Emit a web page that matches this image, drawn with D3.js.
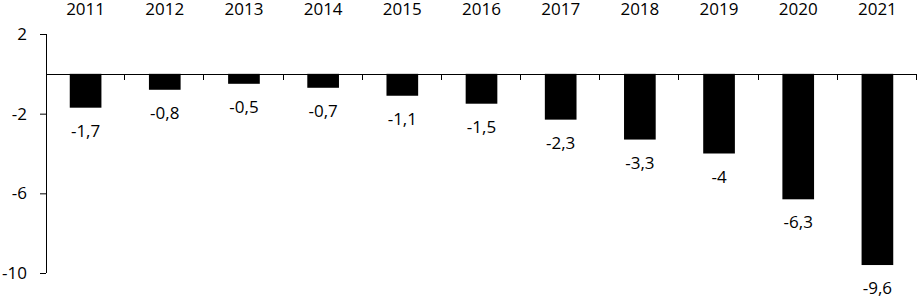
<!DOCTYPE html>
<html>
<head>
<meta charset="utf-8">
<script src="https://cdn.jsdelivr.net/npm/d3@7"></script>
<style>
  body { margin: 0; background: #fff; }
  text { font-family: "Open Sans", sans-serif; font-size: 17px; fill: #000; }
</style>
</head>
<body>
<div id="chart"></div>
<script>
// data
var years = ["2011", "2012", "2013", "2014", "2015", "2016", "2017", "2018", "2019", "2020", "2021"];
var values = [-1.7, -0.8, -0.5, -0.7, -1.1, -1.5, -2.3, -3.3, -4, -6.3, -9.6];
var yTicks = [2, -2, -6, -10];

var width = 917, height = 298;
var plotLeft = 46, plotRight = 917, plotTop = 34, plotBottom = 273;

var svg = d3.select("#chart").append("svg")
    .attr("width", width)
    .attr("height", height);

var x = d3.scaleBand()
    .domain(years)
    .range([plotLeft, plotRight])
    .paddingInner(0.6)
    .paddingOuter(0.3);

var xOuter = d3.scaleBand()
    .domain(years)
    .range([plotLeft, plotRight]);

var y = d3.scaleLinear()
    .domain([-10, 2])
    .range([plotBottom, plotTop]);

// bars
svg.selectAll(".bar")
    .data(values)
    .enter().append("rect")
    .attr("class", "bar")
    .attr("x", function(d, i) { return x(years[i]); })
    .attr("y", function(d) { return y(Math.max(0, d)); })
    .attr("width", x.bandwidth())
    .attr("height", function(d) { return Math.abs(y(d) - y(0)); })
    .attr("fill", "#000");

// y axis
var yAxis = svg.append("g")
    .attr("transform", "translate(" + plotLeft + ",0)")
    .call(d3.axisLeft(y).tickValues(yTicks).tickSize(6).tickPadding(13)
        .tickFormat(function(d) { return d; }));
yAxis.select(".domain").attr("stroke", "#000").attr("d", "M0.5," + plotTop + "V" + plotBottom);
yAxis.selectAll("line").attr("stroke", "#000");
yAxis.selectAll("text").style("font-family", "'Open Sans', sans-serif").style("font-size", "17px");

// zero line with category ticks
var xAxis = svg.append("g")
    .attr("transform", "translate(0," + Math.round(y(0)) + ")")
    .call(d3.axisBottom(xOuter).tickSize(0).tickFormat(""));
xAxis.select(".domain").attr("stroke", "#000");
xAxis.selectAll(".sep")
    .data(years)
    .enter().append("line")
    .attr("class", "sep")
    .attr("x1", function(d) { return Math.round(xOuter(d) + xOuter.bandwidth()) - 0.5; })
    .attr("x2", function(d) { return Math.round(xOuter(d) + xOuter.bandwidth()) - 0.5; })
    .attr("y1", 0)
    .attr("y2", 6)
    .attr("stroke", "#000");

// category labels at the top
svg.selectAll(".cat")
    .data(years)
    .enter().append("text")
    .attr("class", "cat")
    .attr("x", function(d) { return xOuter(d) + xOuter.bandwidth() / 2; })
    .attr("y", 15)
    .attr("text-anchor", "middle")
    .text(function(d) { return d; });

// value labels
svg.selectAll(".val")
    .data(values)
    .enter().append("text")
    .attr("class", "val")
    .attr("x", function(d, i) { return xOuter(years[i]) + xOuter.bandwidth() / 2; })
    .attr("y", function(d) { return y(d) + 29; })
    .attr("text-anchor", "middle")
    .text(function(d) { return String(d).replace(".", ","); });
</script>
</body>
</html>
